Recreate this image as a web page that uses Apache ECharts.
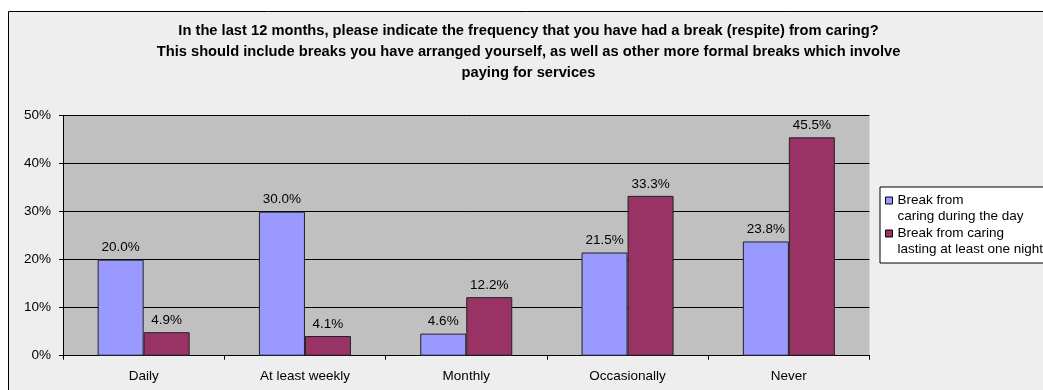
<!DOCTYPE html>
<html>
<head>
<meta charset="utf-8">
<script src="https://cdn.jsdelivr.net/npm/echarts@6/dist/echarts.min.js"></script>
<style>
  html, body { margin: 0; padding: 0; background: #ffffff; }
  #chart { width: 1043px; height: 390px; }
</style>
</head>
<body>
<div id="chart"></div>
<script>
// Categories and percentages for each type of break
const categories = ['Daily', 'At least weekly', 'Monthly', 'Occasionally', 'Never'];
const dayBreaks = [20.0, 30.0, 4.6, 21.5, 23.8];
const overnightBreaks = [4.9, 4.1, 12.2, 33.3, 45.5];
const seriesNames = ['Break from\ncaring during the day', 'Break from caring\nlasting at least one night'];
const yTicks = [0, 10, 20, 30, 40, 50];

const chart = echarts.init(document.getElementById('chart'), null, { renderer: 'canvas' });
const font = 'Liberation Sans, Arial, sans-serif';
const fs = 13.5;

// Legend swatch sits beside the first line of a two-line entry
const swatch = 'path://M0,0 L0,0 M0,4.5 H7 V11.5 H0 Z M0,32 L0,32';

const labelOpt = {
  show: true,
  position: 'top',
  distance: 5,
  fontFamily: font,
  fontSize: fs,
  color: '#000',
  formatter: p => p.value.toFixed(1) + '%'
};

chart.setOption({
  animation: false,
  backgroundColor: '#ffffff',
  graphic: [{
    type: 'rect',
    z: -10,
    shape: { x: 8.5, y: 11.5, width: 1060, height: 400 },
    style: { fill: '#eeeeee', stroke: '#000', lineWidth: 1 }
  }],
  title: {
    text: 'In the last 12 months, please indicate the frequency that you have had a break (respite) from caring?\nThis should include breaks you have arranged yourself, as well as other more formal breaks which involve\npaying for services',
    left: 523.5,
    top: 15,
    padding: 5,
    textAlign: 'center',
    textStyle: {
      fontFamily: font,
      fontSize: 14.7,
      fontWeight: 'bold',
      color: '#000',
      lineHeight: 21
    }
  },
  legend: {
    orient: 'vertical',
    left: 880,
    top: 187,
    padding: [5, 6, 5, 5],
    itemGap: 0,
    itemWidth: 7,
    itemHeight: 32,
    backgroundColor: '#ffffff',
    borderColor: '#000',
    borderWidth: 1,
    borderRadius: 0,
    icon: swatch,
    textStyle: { fontFamily: font, fontSize: fs, color: '#000', lineHeight: 16, padding: [0, 0, 0, 0] },
    data: seriesNames.map(n => ({ name: n, itemStyle: { borderColor: '#000', borderWidth: 1 } }))
  },
  grid: { left: 63, right: 173.5, top: 115.7, bottom: 34.3, backgroundColor: '#c0c0c0', show: true, borderWidth: 0 },
  xAxis: {
    type: 'category',
    data: categories,
    axisLine: { lineStyle: { color: '#000', width: 1 } },
    axisTick: { show: true, length: 4, lineStyle: { color: '#000' } },
    axisLabel: { fontFamily: font, fontSize: fs, color: '#000', margin: 14 }
  },
  yAxis: {
    type: 'value',
    min: 0,
    max: 50,
    interval: 10,
    axisLine: { show: true, lineStyle: { color: '#000', width: 1 } },
    axisTick: { show: true, length: 4, lineStyle: { color: '#000' } },
    axisLabel: { fontFamily: font, fontSize: fs, color: '#000', margin: 12, formatter: v => yTicks.includes(v) ? v + '%' : '' },
    splitLine: { show: true, lineStyle: { color: '#000', width: 1 } }
  },
  series: [
    {
      name: seriesNames[0],
      type: 'bar',
      data: dayBreaks,
      barWidth: 46,
      barGap: '0%',
      itemStyle: { color: '#9999ff', borderColor: '#222', borderWidth: 1 },
      label: labelOpt
    },
    {
      name: seriesNames[1],
      type: 'bar',
      data: overnightBreaks,
      barWidth: 46,
      barGap: '0%',
      itemStyle: { color: '#993366', borderColor: '#222', borderWidth: 1 },
      label: labelOpt
    }
  ]
});
</script>
</body>
</html>
